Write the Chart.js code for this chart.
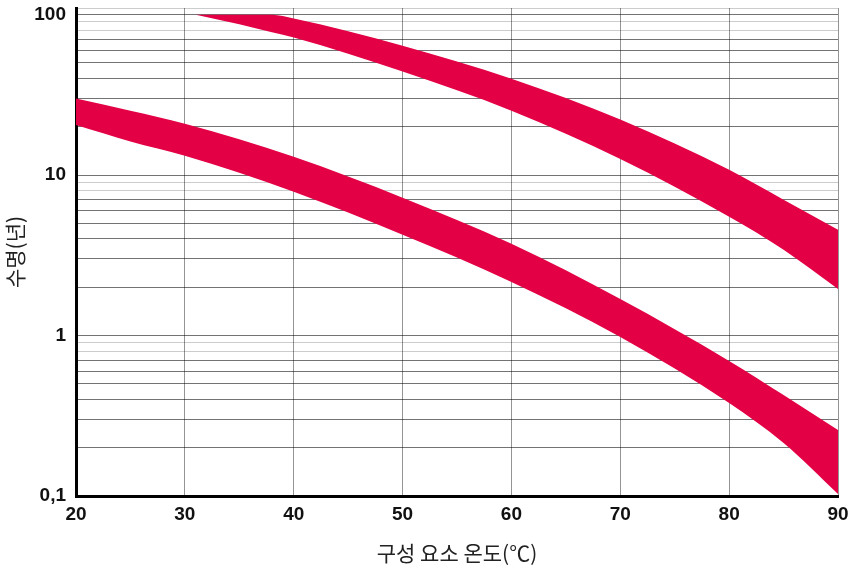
<!DOCTYPE html>
<html>
<head>
<meta charset="utf-8">
<script src="https://cdn.jsdelivr.net/npm/chart.js@4.4.1/dist/chart.umd.min.js"></script>
<style>
    body { margin: 0; background: #fff; }
    #wrap { width: 848px; height: 570px; }
</style>
</head>
<body>
<div id="wrap"><canvas id="myChart" width="848" height="570"></canvas></div>
<script>
// temperature (x) and lifetime in years (y)
let lowBandTemps = [20, 25, 30, 40, 50, 60, 70, 80, 85, 90];
let lowBandUpper = [30, 25.2, 20.9, 13.0, 7.23, 3.73, 1.69, 0.695, 0.426, 0.258];
let lowBandLower = [20.5, 16.2, 13.2, 7.87, 4.25, 2.16, 0.98, 0.38, 0.214, 0.103];

let highBandTemps = [31, 35, 38, 40, 50, 60, 70, 80, 85, 90];
let highBandUpper = [100, 100, 100, 94.6, 64.1, 39.9, 22.2, 10.8, 7.03, 4.56];
let highBandLower = [100, 87, 77.6, 72, 44.2, 25.2, 12.6, 5.5, 3.43, 1.95];

let xTickLabels = [20, 30, 40, 50, 60, 70, 80, 90];
let yTickLabels = [0.1, 1, 10, 100];

const bandColor = '#e30045';
const tickFont = { family: 'Liberation Sans', size: 19, weight: 'bold' };
const titleFont = { family: "'Noto Sans CJK KR', 'Noto Sans'", size: 21 };

function toPoints(xs, ys) {
    let pts = [];
    for (let i = 0; i < xs.length; i++) {
        pts.push({ x: xs[i], y: ys[i] });
    }
    return pts;
}

// log gridlines: 1..9 in every decade, then the top edge
function buildYTicks() {
    let values = [];
    for (let d = 0; d < yTickLabels.length - 1; d++) {
        for (let m = 1; m <= 9; m++) {
            values.push(Math.round(yTickLabels[d] * m * 1000) / 1000);
        }
    }
    values.push(yTickLabels[yTickLabels.length - 1]);
    values.push(110);
    return values.map((v) => ({ value: v }));
}

function bandLine(xs, ys, fill) {
    return {
        data: toPoints(xs, ys),
        borderWidth: 0,
        borderColor: bandColor,
        backgroundColor: bandColor,
        pointRadius: 0,
        cubicInterpolationMode: 'monotone',
        fill: fill
    };
}

const data = {
    datasets: [
        bandLine(highBandTemps, highBandUpper, '+1'),
        bandLine(highBandTemps, highBandLower, false),
        bandLine(lowBandTemps, lowBandUpper, '+1'),
        bandLine(lowBandTemps, lowBandLower, false)
    ]
};

const config = {
    type: 'line',
    data,
    options: {
        responsive: false,
        animation: false,
        layout: { padding: 0 },
        plugins: { legend: { display: false }, tooltip: { enabled: false } },
        scales: {
            x: {
                type: 'linear',
                min: 20,
                max: 90,
                z: 1,
                afterBuildTicks: (scale) => { scale.ticks = xTickLabels.map((v) => ({ value: v })); },
                afterFit: (scale) => {
                    scale.height = 74;
                    scale.paddingLeft = 0;
                    scale.paddingRight = 10;
                },
                border: { color: '#000', width: 3 },
                grid: { color: 'rgba(0,0,0,0.42)', lineWidth: 1, drawTicks: false },
                ticks: { color: '#111', font: tickFont, padding: 7, maxRotation: 0 },
                title: {
                    display: true,
                    text: '구성 요소 온도(℃)',
                    color: '#222',
                    font: titleFont,
                    padding: { top: 0, bottom: 4 }
                }
            },
            y: {
                type: 'logarithmic',
                min: 0.1,
                max: 110,
                z: 1,
                afterBuildTicks: (scale) => { scale.ticks = buildYTicks(); },
                afterFit: (scale) => {
                    scale.width = 76;
                    scale.paddingTop = 8;
                    scale.paddingBottom = 0;
                },
                border: { color: '#000', width: 3 },
                grid: {
                    lineWidth: 1,
                    drawTicks: false,
                    color: (ctx) => {
                        let v = ctx.tick ? ctx.tick.value : 0;
                        let lead = Math.round(v / Math.pow(10, Math.floor(Math.log10(v) + 1e-9)));
                        if (v > 100 || lead === 8 || lead === 9) return 'rgba(0,0,0,0.2)';
                        return 'rgba(0,0,0,0.55)';
                    }
                },
                ticks: {
                    color: '#111',
                    font: tickFont,
                    padding: 10,
                    autoSkip: false,
                    callback: (value) => {
                        if (yTickLabels.includes(value)) return String(value).replace('.', ',');
                        return '';
                    }
                },
                title: {
                    display: true,
                    text: '수명(년)',
                    color: '#222',
                    font: titleFont,
                    padding: { top: 2, bottom: 0 }
                }
            }
        }
    }
};

const myChart = new Chart(document.getElementById('myChart'), config);
</script>
</body>
</html>
